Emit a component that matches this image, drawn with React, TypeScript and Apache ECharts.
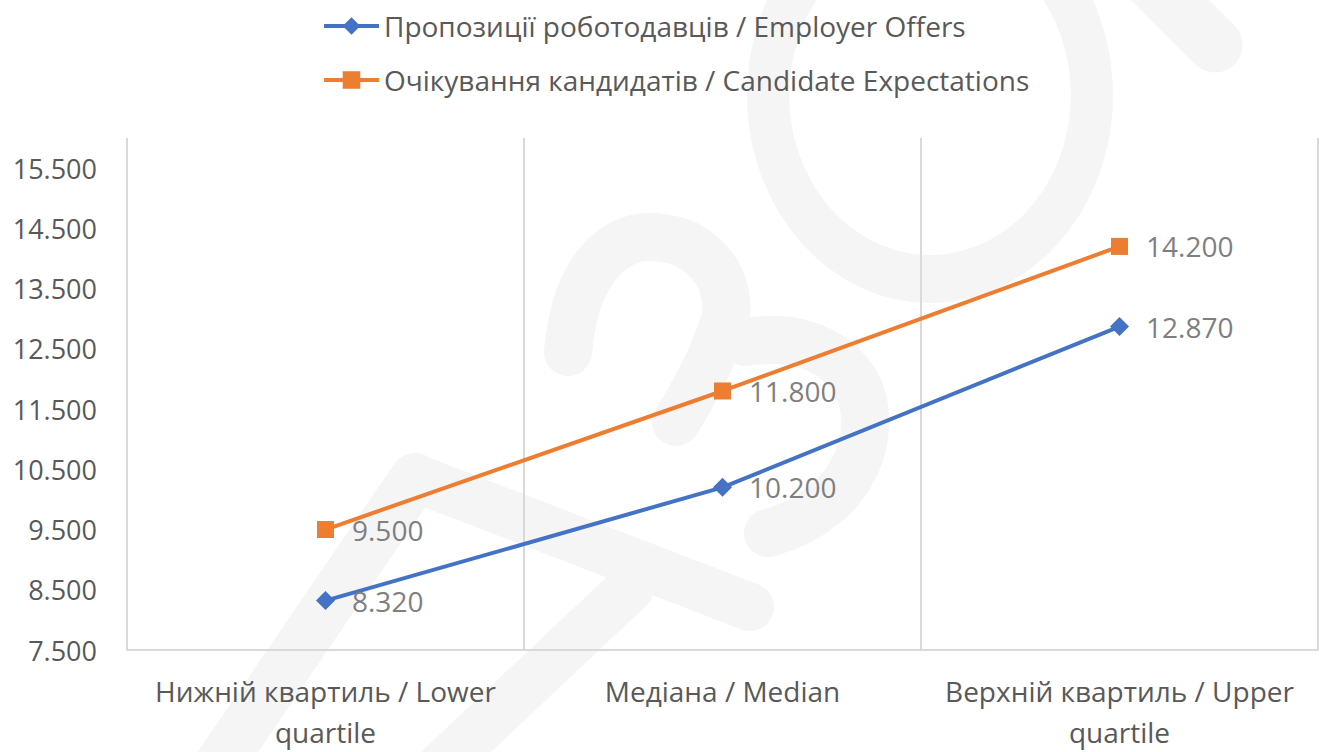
import React, { useEffect, useRef } from "react";
import * as echarts from "echarts";

const categories = [
  "Нижній квартиль / Lower quartile",
  "Медіана / Median",
  "Верхній квартиль / Upper quartile",
];
const employerName = "Пропозиції роботодавців / Employer Offers";
const candidateName = "Очікування кандидатів / Candidate Expectations";
const employerOffers = [8320, 10200, 12870];
const candidateExpectations = [9500, 11800, 14200];
const yMin = 7500;
const yMax = 16000;
const yLabelMax = 15500;
const yStep = 1000;

const fmt = (v: number) => {
  const t = Math.floor(v / 1000);
  const r = Math.round(v % 1000);
  return t > 0 ? `${t}.${String(r).padStart(3, "0")}` : String(r);
};

const FONT = "Open Sans";
const WM = "#f5f5f5";

const stroke = (points: number[][], width: number, smooth = 0) => ({
  type: "polyline",
  z: -10,
  silent: true,
  shape: { points, smooth },
  style: { stroke: WM, lineWidth: width, lineCap: "round", lineJoin: "round", fill: "none" },
});

export default function App() {
  const ref = useRef<HTMLDivElement>(null);
  useEffect(() => {
    if (!ref.current) return;
    const chart = echarts.init(ref.current, undefined, { renderer: "svg" });
    chart.setOption({
      animation: false,
      backgroundColor: "#ffffff",
      textStyle: { fontFamily: FONT },
      graphic: [
        {
          type: "ring",
          z: -10,
          silent: true,
          x: 930,
          y: 95,
          scaleX: 0.88,
          shape: { cx: 0, cy: 0, r: 208, r0: 160 },
          style: { fill: WM },
        },
        stroke([[1150, -20], [1215, 45]], 55),
        stroke([[415, 478], [195, 800]], 50),
        stroke([[415, 478], [750, 607]], 48),
        stroke([[630, 588], [405, 800]], 48),
        stroke(
          [[568, 352], [582, 290], [618, 246], [663, 238], [705, 258], [726, 300], [716, 345], [692, 395], [676, 422]],
          48,
          0.4
        ),
        stroke([[745, 342], [800, 343], [848, 372], [865, 420], [850, 475], [810, 515], [768, 533]], 48, 0.4),
      ],
      legend: {
        orient: "vertical",
        left: 317,
        top: 5,
        itemWidth: 55,
        itemHeight: 22,
        itemGap: 22,
        lineStyle: { width: 4 },
        textStyle: { fontSize: 28, color: "#595959", fontFamily: FONT, lineHeight: 32 },
        data: [employerName, candidateName],
      },
      grid: { left: 127, right: 4, top: 138, bottom: 96, containLabel: false },
      xAxis: {
        type: "category",
        data: categories,
        boundaryGap: true,
        axisLine: { show: true, lineStyle: { color: "#d9d9d9", width: 2 } },
        axisTick: { show: false },
        splitLine: { show: true, lineStyle: { color: "#d9d9d9", width: 2 } },
        axisLabel: {
          interval: 0,
          margin: 20,
          fontSize: 28,
          lineHeight: 41,
          color: "#595959",
          fontFamily: FONT,
          formatter: (v: string) => v.replace(" quartile", "\nquartile"),
        },
      },
      yAxis: {
        type: "value",
        min: yMin,
        max: yMax,
        interval: yStep,
        axisLine: { show: false },
        axisTick: { show: false },
        splitLine: { show: false },
        axisLabel: {
          margin: 30,
          fontSize: 27,
          color: "#595959",
          fontFamily: FONT,
          formatter: (v: number) => (v > yLabelMax ? "" : fmt(v)),
        },
      },
      series: [
        {
          name: employerName,
          type: "line",
          data: employerOffers,
          symbol: "diamond",
          symbolSize: 19,
          lineStyle: { color: "#4472c4", width: 4 },
          itemStyle: { color: "#4472c4" },
          label: {
            show: true,
            position: "right",
            distance: 17,
            fontSize: 28,
            color: "#7f7f7f",
            fontFamily: FONT,
            formatter: (p: any) => fmt(p.value),
          },
        },
        {
          name: candidateName,
          type: "line",
          data: candidateExpectations,
          symbol: "rect",
          symbolSize: 17,
          lineStyle: { color: "#ed7d31", width: 4 },
          itemStyle: { color: "#ed7d31" },
          label: {
            show: true,
            position: "right",
            distance: 18,
            fontSize: 28,
            color: "#7f7f7f",
            fontFamily: FONT,
            formatter: (p: any) => fmt(p.value),
          },
        },
      ],
    });
    return () => chart.dispose();
  }, []);
  return (
    <div
      ref={ref}
      style={{ position: "fixed", left: 0, top: 0, width: 1322, height: 752 }}
    />
  );
}
